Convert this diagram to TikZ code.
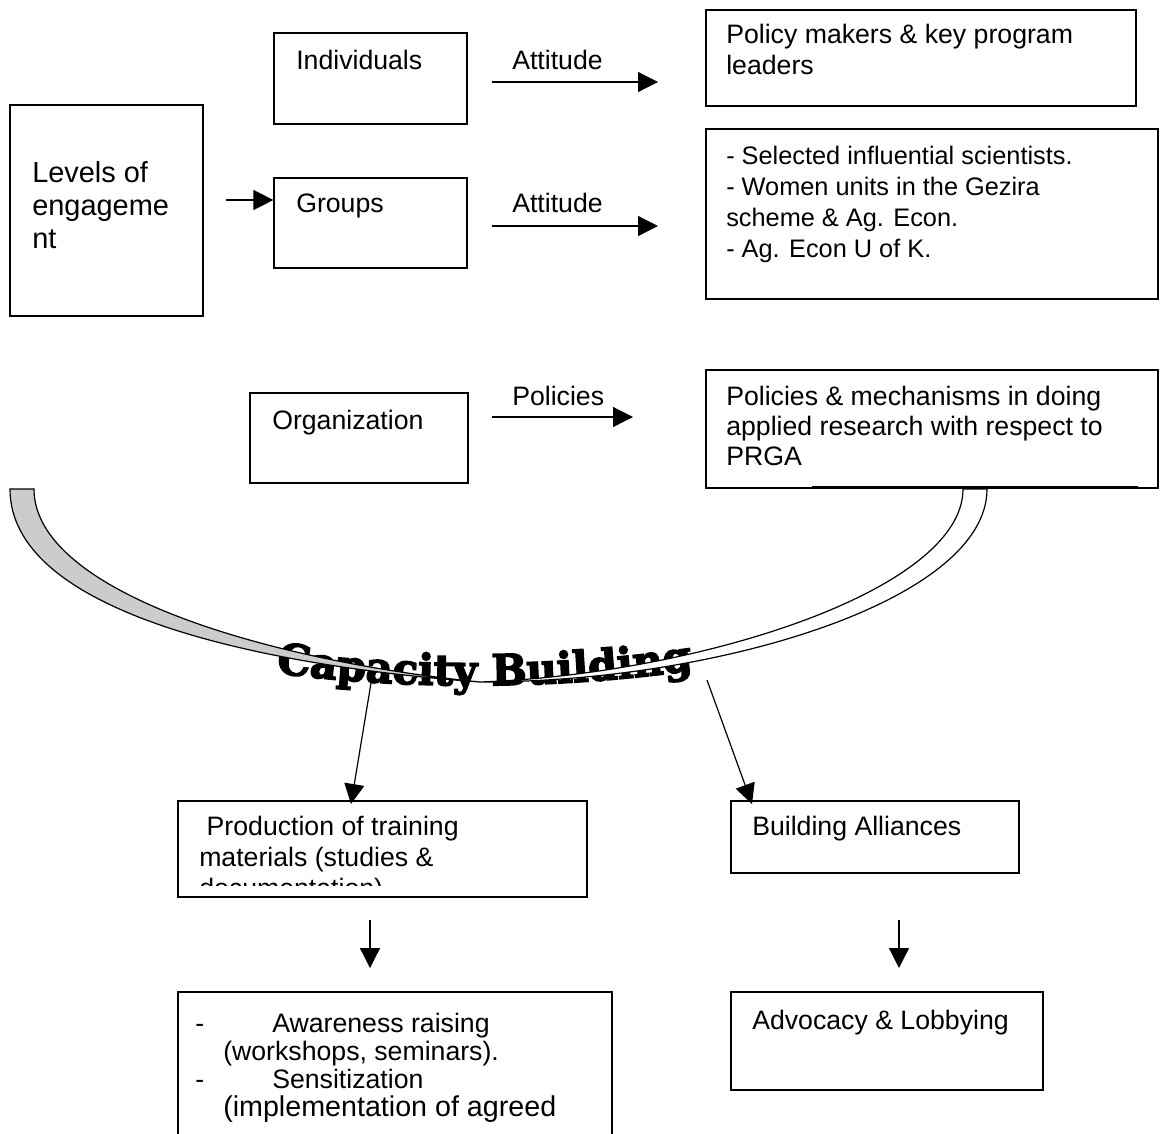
\documentclass[tikz,border=0pt]{standalone}
\usepackage{fontspec}
\setmainfont{Liberation Sans}
\newfontfamily\capfont[FakeStretch=0.98,FakeBold=3.5]{DejaVu Serif}
\usetikzlibrary{arrows.meta,fit,decorations.text}
\begin{document}
\begin{tikzpicture}[x=0.75pt,y=-0.75pt,
  box/.style={draw,line width=0.9pt,inner sep=0pt},
  txt/.style={anchor=base west,inner sep=0pt,font=\fontsize{20pt}{23.25pt}\selectfont},
  arr/.style={-{Triangle[length=15pt,width=15pt]},line width=0.9pt},
  band/.style={line width=0.9pt}]
\useasboundingbox (0,0) rectangle (1162,1133);
% boxes
\node[box,fit={(10,105) (203,316)}] (lev) {};
\node[box,fit={(274,33) (467,124)}] (ind) {};
\node[box,fit={(706,10) (1136,106)}] (pm) {};
\node[box,fit={(274,178) (467,268)}] (grp) {};
\node[box,fit={(706,129) (1158,299)}] (lst) {};
\node[box,fit={(250,393) (468,483)}] (org) {};
\node[box,fit={(706,370) (1158,488)}] (pol) {};
\node[box,fit={(178,801) (587,897)}] (prod) {};
\node[box,fit={(731,801) (1019,873)}] (ball) {};
\node[box,fit={(178,992) (612,1150)}] (aware) {};
\node[box,fit={(731,992) (1043,1090)}] (adv) {};
% texts
\node[txt,font=\fontsize{21.7pt}{24.75pt}\selectfont] (tlev) at (32,182) {\vtop{\hbox{Levels of}\hbox{engageme}\hbox{nt}}};
\node[txt] (tind) at (296,69) {Individuals};
\node[txt] (tatt1) at (512,69) {Attitude};
\node[txt] (tpm) at (726,43) {\vtop{\hbox{Policy makers \& key program}\hbox{leaders}}};
\node[txt] (tgrp) at (296,212) {Groups};
\node[txt] (tatt2) at (512,212) {Attitude};
\node[txt,font=\fontsize{19pt}{23.25pt}\selectfont] (tlst) at (726,164) {\vtop{\hbox{- Selected influential scientists.}\hbox{- Women units in the Gezira}\hbox{scheme \& Ag. Econ.}\hbox{- Ag. Econ U of K.}}};
\node[txt] (torg) at (272,429) {Organization};
\node[txt] (tpols) at (512,405) {Policies};
\node[txt,font=\fontsize{20pt}{22.5pt}\selectfont] (tpol) at (726,405) {\vtop{\hbox{Policies \& mechanisms in doing}\hbox{applied research with respect to}\hbox{PRGA}}};
\begin{scope}
\clip (178,801) rectangle (587,885);
\node[txt] (tprod) at (199,835) {\vtop{\hbox{\ Production of training}\hbox{materials (studies \&}\hbox{documentation)}}};
\end{scope}
\node[txt] (tball) at (752,835) {Building Alliances};
\node[txt] (tadv) at (752,1029) {Advocacy \& Lobbying};
\node[txt,font=\fontsize{20pt}{21.2pt}\selectfont] (taware) at (195,1032) {\vtop{\hbox{\hbox to 57.75pt{-\hfil}Awareness raising}\hbox{\hspace*{21pt}(workshops, seminars).}\hbox{\hbox to 57.75pt{-\hfil}Sensitization}\hbox{\hspace*{21pt}\fontsize{21.5pt}{21.5pt}\selectfont(implementation of agreed}}};
% arrows
\coordinate (lg) at (226,200);
\draw[arr] (lg) -- (lg -| grp.west);
\coordinate (a1s) at (492,82); \coordinate (a1e) at (658,82);
\draw[arr] (a1s) -- (a1e);
\coordinate (a2s) at (492,226); \coordinate (a2e) at (658,226);
\draw[arr] (a2s) -- (a2e);
\coordinate (a3s) at (492,417); \coordinate (a3e) at (633,417);
\draw[arr] (a3s) -- (a3e);
\coordinate (c1s) at (371,683); \coordinate (c1e) at (351,804);
\draw[arr] (c1s) -- (c1e);
\coordinate (c2s) at (707,680); \coordinate (c2e) at (752,804);
\draw[arr] (c2s) -- (c2e);
\coordinate (d1s) at (370,920); \coordinate (d1e) at (370,968);
\draw[arr] (d1s) -- (d1e);
\coordinate (d2s) at (899,920); \coordinate (d2e) at (899,968);
\draw[arr] (d2s) -- (d2e);
% capacity building text
\path[decorate,decoration={text along path,text align=left,
  text={|\capfont\bfseries\fontsize{32pt}{36pt}\selectfont|Capacity Building}}]
  (276,673) .. controls (400,690) and (560,690) .. (694,670);
% ribbon
\filldraw[band,fill=gray!40] (10,489) .. controls (10,610) and (250,665) .. (480,682)
  .. controls (260,660) and (34,590) .. (34,489) -- cycle;
\filldraw[band,fill=white] (480,682) .. controls (700,674) and (963,590) .. (963,489)
  -- (987,489) .. controls (987,600) and (720,682) .. (480,682) -- cycle;
\draw[line width=1.6pt] (812,487) -- (1138,487);
\end{tikzpicture}
\end{document}
